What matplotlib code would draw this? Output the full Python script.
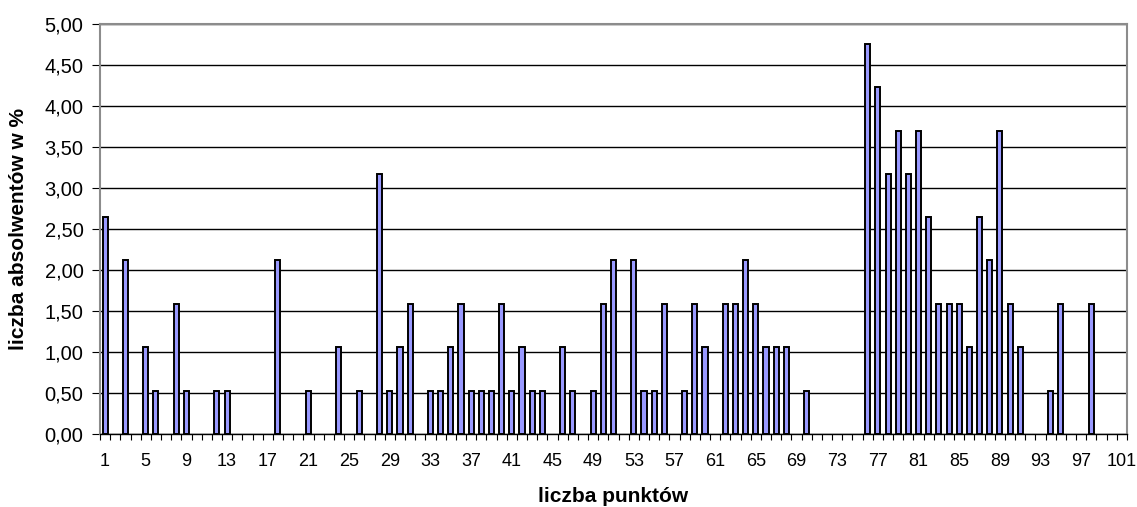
import numpy as np
import matplotlib.pyplot as plt
from matplotlib.ticker import FuncFormatter, MultipleLocator

plt.rcParams['font.family'] = ['Liberation Sans', 'DejaVu Sans']

# liczba punktow (kategorie 1..101) i odsetek absolwentow w %
punkty = list(range(1, 102))
niezerowe = {
    1: 2.65, 3: 2.12, 5: 1.06, 6: 0.53, 8: 1.59, 9: 0.53, 12: 0.53, 13: 0.53,
    18: 2.12, 21: 0.53, 24: 1.06, 26: 0.53, 28: 3.17, 29: 0.53, 30: 1.06,
    31: 1.59, 33: 0.53, 34: 0.53, 35: 1.06, 36: 1.59, 37: 0.53, 38: 0.53,
    39: 0.53, 40: 1.59, 41: 0.53, 42: 1.06, 43: 0.53, 44: 0.53, 46: 1.06,
    47: 0.53, 49: 0.53, 50: 1.59, 51: 2.12, 53: 2.12, 54: 0.53, 55: 0.53,
    56: 1.59, 58: 0.53, 59: 1.59, 60: 1.06, 62: 1.59, 63: 1.59, 64: 2.12,
    65: 1.59, 66: 1.06, 67: 1.06, 68: 1.06, 70: 0.53, 76: 4.76, 77: 4.23,
    78: 3.17, 79: 3.70, 80: 3.17, 81: 3.70, 82: 2.65, 83: 1.59, 84: 1.59,
    85: 1.59, 86: 1.06, 87: 2.65, 88: 2.12, 89: 3.70, 90: 1.59, 91: 1.06,
    94: 0.53, 95: 1.59, 98: 1.59,
}
procent = [niezerowe.get(p, 0.0) for p in punkty]
etykiety_x = list(range(1, 102, 4))

fig = plt.figure(figsize=(11.37, 5.07), dpi=100)
ax = fig.add_axes([100/1137, 1 - 434/507, 1027/1137, 410/507])

x = np.array(punkty)
y = np.array(procent)
m = y > 0
ax.bar(x[m], y[m], width=0.5, color='#9999ff', edgecolor='black', linewidth=1.4, zorder=3)

ax.set_xlim(0.5, 101.5)
ax.set_ylim(0, 5)
ax.yaxis.set_major_locator(MultipleLocator(0.5))
ax.yaxis.set_major_formatter(FuncFormatter(lambda v, p: ('%.2f' % v).replace('.', ',')))
ax.grid(axis='y', color='black', linewidth=1.0, zorder=0)

ax.set_xticks(etykiety_x)
ax.set_xticks(np.arange(0.5, 102, 1), minor=True)
ax.tick_params(axis='x', which='major', length=0, pad=14, labelsize=13)
ax.tick_params(axis='x', which='minor', length=4.3, width=0.8, direction='out')
ax.tick_params(axis='y', length=5.8, width=0.8, direction='out', labelsize=14.5, pad=6)

for s in ['top', 'right', 'left']:
    ax.spines[s].set_color('#8c8c8c')
    ax.spines[s].set_linewidth(1.5)
ax.spines['bottom'].set_color('black')
ax.spines['bottom'].set_linewidth(1.0)

ax.set_xlabel('liczba punktów', fontsize=15, fontweight='bold', labelpad=12)
ax.set_ylabel('liczba absolwentów w %', fontsize=15, fontweight='bold', labelpad=12)

plt.savefig('out.png', dpi=100)
